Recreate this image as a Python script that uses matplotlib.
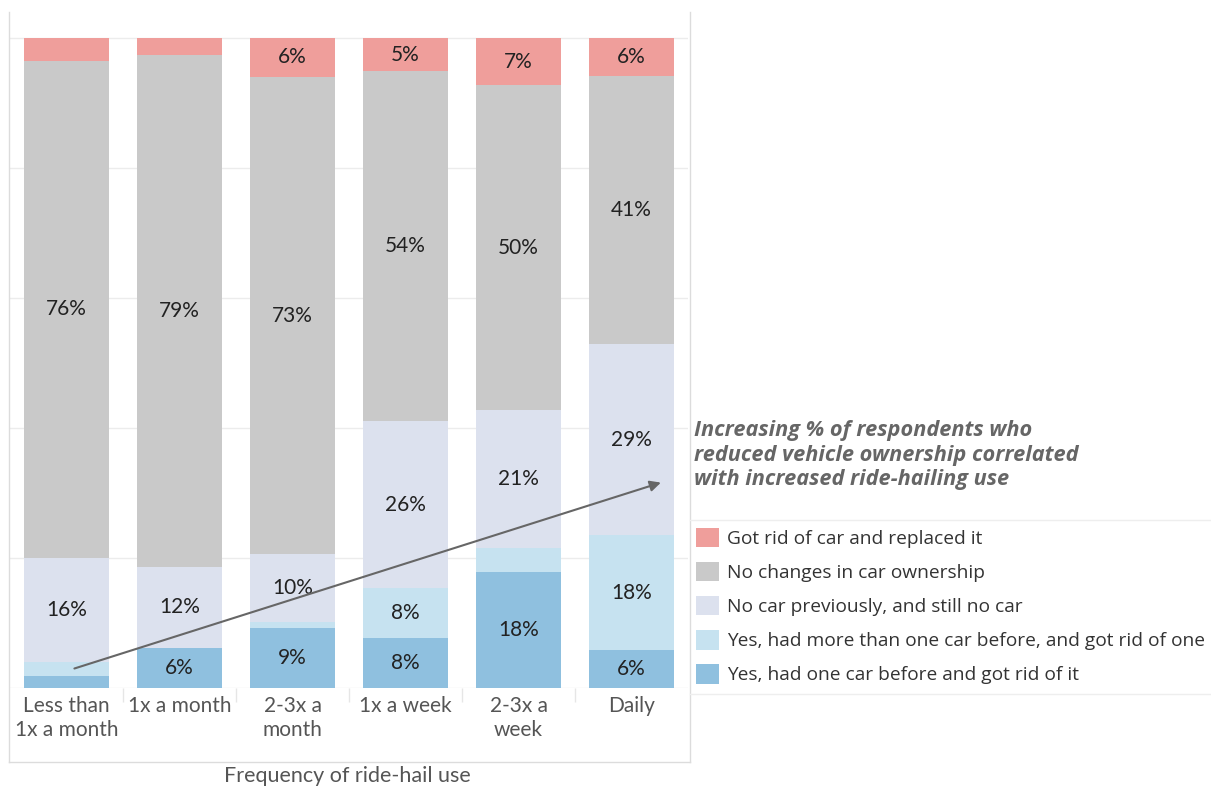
import matplotlib.pyplot as plt
from matplotlib.patches import Patch
from matplotlib.lines import Line2D
import numpy as np

plt.rcParams['font.family'] = ['Lato', 'DejaVu Sans']

categories = ["Less than\n1x a month", "1x a month", "2-3x a\nmonth",
              "1x a week", "2-3x a\nweek", "Daily"]

# stacked from the bottom up (labels are rounded)
one_car_gone = [1.8, 6.2, 9.2, 7.7, 17.8, 5.8]
more_than_one_gone = [2.2, 0.0, 1.0, 7.7, 3.7, 17.7]
no_car_still = [16.0, 12.4, 10.4, 25.6, 21.2, 29.4]
no_change = [76.5, 78.8, 73.4, 53.9, 50.0, 41.2]
replaced = [3.5, 2.6, 6.0, 5.1, 7.3, 5.9]

series_names = [
    "Yes, had one car before and got rid of it",
    "Yes, had more than one car before, and got rid of one",
    "No car previously, and still no car",
    "No changes in car ownership",
    "Got rid of car and replaced it",
]
series_values = [one_car_gone, more_than_one_gone, no_car_still, no_change, replaced]
colors = ["#8fc0df", "#c6e2f0", "#dce1ee", "#c9c9c9", "#ef9e9b"]

note = ("Increasing % of respondents who\n"
        "reduced vehicle ownership correlated\n"
        "with increased ride-hailing use")

W, H = 1211, 789
fig = plt.figure(figsize=(W / 100, H / 100), dpi=100)
ax = fig.add_axes([10 / W, (H - 688) / H, 678 / W, (688 - 12) / H])

x = np.arange(len(categories))
bottom = np.zeros(len(categories))
for vals, col in zip(series_values, colors):
    vals = np.array(vals, dtype=float)
    ax.bar(x, vals, bottom=bottom, width=0.75, color=col, zorder=2)
    for xi, b, v in zip(x, bottom, vals):
        if v >= 5:
            ax.text(xi, b + v / 2, f"{v:.0f}%", ha="center", va="center",
                    fontsize=15, color="#222222", zorder=3)
    bottom += vals

ax.set_xlim(-0.5, 5.5)
ax.set_ylim(0, 104)
for g in range(0, 101, 20):
    ax.axhline(g, color="#ececec", lw=1, zorder=1)
for s in ax.spines.values():
    s.set_visible(False)
ax.set_yticks([])
ax.set_xticks(x)
ax.set_xticklabels(categories, fontsize=15, color="#555555", linespacing=1.25)
ax.tick_params(axis="x", length=0, pad=6)
ax.set_xticks(np.arange(0.5, 5.5, 1), minor=True)
ax.tick_params(axis="x", which="minor", length=10, color="#e6e6e6", width=1)
fig.text(347 / W, 1 - 776 / H, "Frequency of ride-hail use", ha="center",
         va="center", fontsize=15.5, color="#555555")

# trend arrow
ax.annotate("", xy=(5.26, 31.6), xytext=(0.07, 3.0),
            arrowprops=dict(arrowstyle="-|>", color="#666666", lw=1.5,
                            mutation_scale=16, shrinkA=0, shrinkB=0),
            zorder=4)

# frame round the chart area
def px_line(x0, y0, x1, y1, color="#dcdcdc"):
    fig.add_artist(Line2D([x0 / W, x1 / W], [1 - y0 / H, 1 - y1 / H],
                          color=color, lw=1))

px_line(9, 12, 9, 762)
px_line(690, 12, 690, 762)
px_line(9, 762, 690, 762)
px_line(690, 520, W, 520, "#eeeeee")
px_line(690, 694, W, 694, "#eeeeee")

fig.text(694 / W, 1 - 455 / H, note, ha="left", va="center", fontsize=15.7,
         fontweight="bold", style="italic", color="#666666", linespacing=1.24,
         family="Open Sans")

handles = [Patch(facecolor=c, edgecolor="none") for c in colors[::-1]]
fig.legend(handles, series_names[::-1], loc="upper left",
           bbox_to_anchor=(688 / W, 1 - 520 / H), frameon=False,
           prop={"family": "Open Sans", "size": 13.8}, handlelength=1.2,
           handleheight=1.2, handletextpad=0.45, labelspacing=0.72,
           borderaxespad=0, labelcolor="#333333")

fig.savefig("out.png", dpi=100)
